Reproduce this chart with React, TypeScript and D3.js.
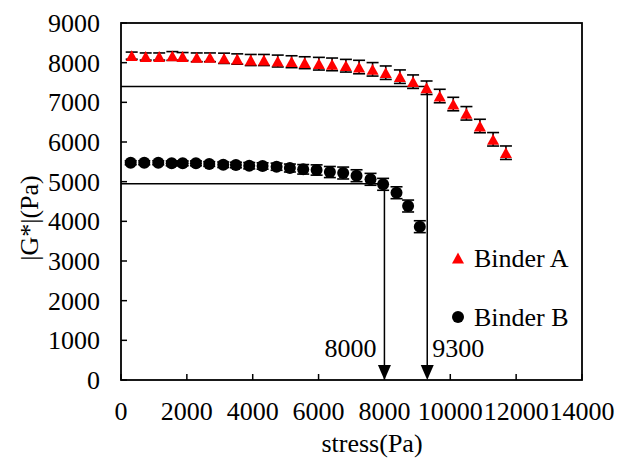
import React from "react";
import { scaleLinear } from "d3";

const xTicks = [0, 2000, 4000, 6000, 8000, 10000, 12000, 14000];
const yTicks = [0, 1000, 2000, 3000, 4000, 5000, 6000, 7000, 8000, 9000];

const stressA = [325, 750, 1160, 1560, 1870, 2300, 2700, 3130, 3530, 3940, 4340, 4760, 5180, 5580, 6010, 6410, 6830, 7230, 7640, 8040, 8470, 8870, 9280, 9680, 10090, 10490, 10900, 11300, 11690];
const gA = [8177, 8155, 8155, 8169, 8155, 8135, 8135, 8110, 8092, 8067, 8067, 8041, 8024, 7999, 7974, 7957, 7923, 7890, 7832, 7747, 7647, 7521, 7368, 7159, 6957, 6723, 6403, 6068, 5730];
const errA = [90, 90, 90, 110, 100, 110, 110, 130, 130, 140, 140, 150, 150, 150, 160, 160, 160, 170, 170, 170, 170, 170, 170, 170, 170, 170, 170, 170, 170];

const stressB = [294, 707, 1132, 1539, 1873, 2276, 2680, 3105, 3490, 3894, 4300, 4725, 5129, 5533, 5940, 6343, 6747, 7153, 7578, 7960, 8367, 8719, 9074];
const gB = [5478, 5478, 5478, 5462, 5462, 5462, 5445, 5427, 5420, 5402, 5395, 5377, 5344, 5311, 5294, 5243, 5218, 5150, 5059, 4933, 4721, 4386, 3865];
const errB = [50, 50, 50, 60, 60, 60, 60, 70, 70, 80, 80, 90, 100, 120, 130, 140, 150, 150, 150, 150, 150, 150, 150];

const critA = { stress: 9300, g: 7400, label: "9300" };
const critB = { stress: 8000, g: 4950, label: "8000" };

const seriesNames = ["Binder A", "Binder B"];

const W = 617, H = 462;
const L = 121, R = 582, T = 23, B = 380;
const ts = { fontFamily: '"Liberation Serif"', fontSize: 26 };

export default function App() {
  const x = scaleLinear().domain([0, 14000]).range([L, R]);
  const y = scaleLinear().domain([0, 9000]).range([B, T]);

  const tri = (cx: number, cy: number, s = 12) => {
    const h = s * 0.9;
    return `M${cx},${cy - h / 2}L${cx + s / 2},${cy + h / 2}L${cx - s / 2},${cy + h / 2}Z`;
  };
  const arrow = (cx: number) => `M${cx},${B}L${cx - 6.5},${B - 15}L${cx + 6.5},${B - 15}Z`;

  return (
    <svg width={W} height={H} style={{ position: "absolute", left: 0, top: 0 }}>
      <style>{`text { font-family: "Liberation Serif", "Times New Roman" !important; font-size: 26px; }`}</style>
      <rect x={0} y={0} width={W} height={H} fill="#fff" />
      <g stroke="#000" strokeWidth={1.5} fill="none">
        <path d={`M${x(0)},${y(critA.g)}H${x(critA.stress)}V${B - 14}`} />
        <path d={`M${x(0)},${y(critB.g)}H${x(critB.stress)}V${B - 14}`} />
      </g>
      <path d={arrow(x(critA.stress))} fill="#000" />
      <path d={arrow(x(critB.stress))} fill="#000" />
      <text x={x(critB.stress) - 8} y={357} style={ts} textAnchor="end">{critB.label}</text>
      <text x={x(critA.stress) + 5} y={357} style={ts} textAnchor="start">{critA.label}</text>

      <g stroke="#000" strokeWidth={1.6}>
        {stressA.map((s, i) => (
          <g key={"ea" + i}>
            <line x1={x(s)} x2={x(s)} y1={y(gA[i] - errA[i])} y2={y(gA[i] + errA[i])} />
            <line x1={x(s) - 6} x2={x(s) + 6} y1={y(gA[i] + errA[i])} y2={y(gA[i] + errA[i])} />
            <line x1={x(s) - 6} x2={x(s) + 6} y1={y(gA[i] - errA[i])} y2={y(gA[i] - errA[i])} />
          </g>
        ))}
        {stressB.map((s, i) => (
          <g key={"eb" + i}>
            <line x1={x(s)} x2={x(s)} y1={y(gB[i] - errB[i])} y2={y(gB[i] + errB[i])} />
            <line x1={x(s) - 6} x2={x(s) + 6} y1={y(gB[i] + errB[i])} y2={y(gB[i] + errB[i])} />
            <line x1={x(s) - 6} x2={x(s) + 6} y1={y(gB[i] - errB[i])} y2={y(gB[i] - errB[i])} />
          </g>
        ))}
      </g>
      {stressA.map((s, i) => (
        <path key={"a" + i} d={tri(x(s), y(gA[i]))} fill="#ff0000" />
      ))}
      {stressB.map((s, i) => (
        <circle key={"b" + i} cx={x(s)} cy={y(gB[i])} r={6} fill="#000" />
      ))}

      <rect x={L} y={T} width={R - L} height={B - T} fill="none" stroke="#000" strokeWidth={1.8} />
      <g stroke="#000" strokeWidth={1.5}>
        {yTicks.map((t) => (
          <line key={"yt" + t} x1={L} x2={L + 6} y1={y(t)} y2={y(t)} />
        ))}
        {xTicks.map((t) => (
          <line key={"xt" + t} x1={x(t)} x2={x(t)} y1={B} y2={B - 6} />
        ))}
      </g>
      {yTicks.map((t) => (
        <text key={"yl" + t} x={100} y={y(t) + 9} style={ts} textAnchor="end">{t}</text>
      ))}
      {xTicks.map((t) => (
        <text key={"xl" + t} x={x(t)} y={420} style={ts} textAnchor="middle">{t}</text>
      ))}
      <text x={372} y={452} style={ts} textAnchor="middle">stress(Pa)</text>
      <text transform={`translate(38,218) rotate(-90)`} style={ts} textAnchor="middle">|G*|(Pa)</text>

      <path d={tri(458, 258, 12)} fill="#ff0000" />
      <text x={474} y={267} style={ts}>{seriesNames[0]}</text>
      <circle cx={458} cy={317} r={6} fill="#000" />
      <text x={474} y={326} style={ts}>{seriesNames[1]}</text>
    </svg>
  );
}
